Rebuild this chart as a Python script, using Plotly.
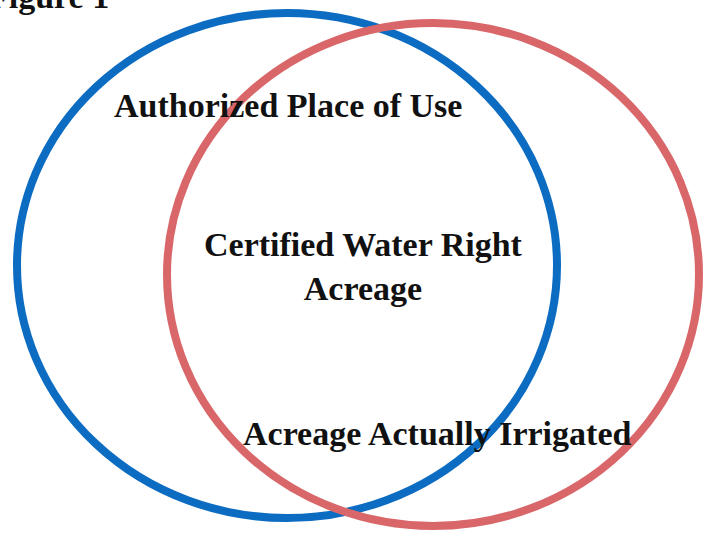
import plotly.graph_objects as go

# Venn sets: name, centre x, centre y, radius x, radius y (in image units)
set_names = ["Authorized Place of Use", "Acreage Actually Irrigated"]
set_cx = [287, 433]
set_cy = [265.5, 274.5]
set_rx = [270, 266]
set_ry = [252.5, 251.5]
set_colors = ["#0c6cc2", "#d9676a"]

# labels
label_texts = ["Authorized Place of Use", "Certified Water Right<br>Acreage", "Acreage Actually Irrigated"]
label_x = [288, 363, 437]
label_y = [105, 266, 433]

title_text = "Figure 1"

W, H = 707, 533

fig = go.Figure()
fig.add_trace(go.Scatter(x=[0, W], y=[0, H], mode="markers",
                         marker=dict(opacity=0), hoverinfo="skip", showlegend=False))

for cx, cy, rx, ry, col in zip(set_cx, set_cy, set_rx, set_ry, set_colors):
    fig.add_shape(type="circle", xref="x", yref="y",
                  x0=cx - rx, x1=cx + rx, y0=cy - ry, y1=cy + ry,
                  line=dict(color=col, width=8), fillcolor="rgba(0,0,0,0)", layer="below")

font = dict(family="Liberation Serif, Times New Roman, serif", size=34, color="#111111")
for t, x, y in zip(label_texts, label_x, label_y):
    fig.add_annotation(x=x, y=y, xref="x", yref="y", text="<b>%s</b>" % t,
                       showarrow=False, font=font, xanchor="center", yanchor="middle",
                       align="center")

# the figure title is partly cut off at the top edge, as in the reference
fig.add_annotation(x=111 / W, y=1 + 4 / H, xref="paper", yref="paper", text="<b>%s</b>" % title_text,
                   showarrow=False, font=dict(family="Liberation Serif, serif", size=34, color="#111111"),
                   xanchor="right", yanchor="middle")

fig.update_xaxes(range=[0, W], visible=False, fixedrange=True)
fig.update_yaxes(range=[H, 0], visible=False, fixedrange=True)
fig.update_layout(width=W, height=H, margin=dict(l=0, r=0, t=0, b=0),
                  plot_bgcolor="white", paper_bgcolor="white", showlegend=False,
                  hovermode=False)

fig.write_html("out.html", config={"displayModeBar": False},
               post_script="document.body.style.margin='0px';")
